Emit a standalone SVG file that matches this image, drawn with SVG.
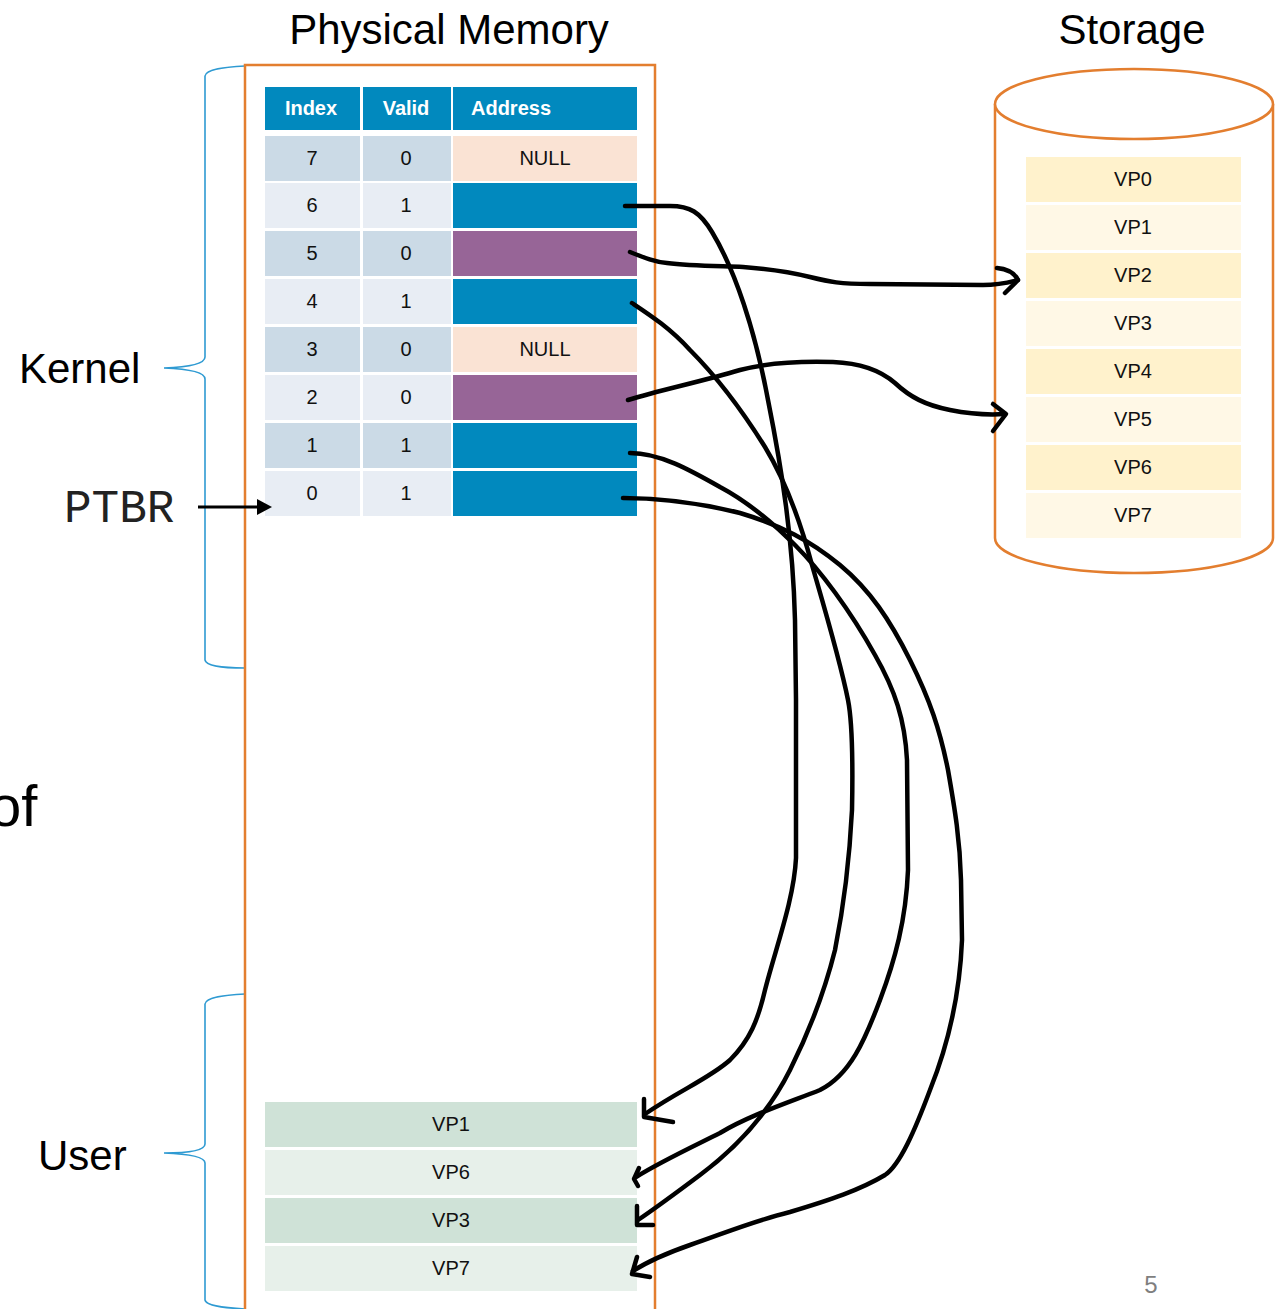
<svg xmlns="http://www.w3.org/2000/svg" width="1283" height="1309" viewBox="0 0 1283 1309">
  <style>
    .title { font-family: "Liberation Sans", Arial, sans-serif; font-size: 42px; fill: #000; }
    .hdr { font-family: "Liberation Sans", Arial, sans-serif; font-size: 20px; font-weight: bold; fill: #fff; text-anchor: middle; }
    .cell { font-family: "Liberation Sans", Arial, sans-serif; font-size: 20px; fill: #111; text-anchor: middle; }
    .mono { font-family: "Liberation Mono", "Courier New", monospace; font-size: 46px; fill: #222; }
    .box { fill: none; stroke: #E37E2F; stroke-width: 2.5; }
    .brace { fill: none; stroke: #2E9AD2; stroke-width: 1.6; }
    .ink { fill: none; stroke: #000; stroke-width: 4.5; stroke-linecap: round; stroke-linejoin: round; }
    .hd { fill: #0189BE; }
    .dk { fill: #CBDAE6; }
    .lt { fill: #E8EDF4; }
    .nul { fill: #FAE3D4; }
    .blu { fill: #0189BE; }
    .pur { fill: #976597; }
    .sA { fill: #FFF2CC; }
    .sB { fill: #FFF8E6; }
    .uA { fill: #CFE2D7; }
    .uB { fill: #E7F0EA; }
  </style>

  <!-- section titles -->
  <text class="title" x="449" y="44" text-anchor="middle">Physical Memory</text>
  <text class="title" x="1132" y="44" text-anchor="middle">Storage</text>
  <text class="title" x="19" y="383">Kernel</text>
  <text class="title" x="38" y="1170">User</text>
  <text class="title" x="-11" y="826" style="font-size:58px">of</text>
  <text x="1151" y="1293" text-anchor="middle" style="font-family:'Liberation Sans',Arial,sans-serif;font-size:24px;fill:#7F7F7F">5</text>

  <!-- region braces -->
  <g id="kernel-brace">
    <path class="brace" d="M245,66 C225,67 206,69 205,76 L205,357 C205,364 190,367 164,368 C190,369 205,372 205,379 L205,660 C206,666 225,668 245,668"/>
  </g>
  <g id="user-brace">
    <path class="brace" d="M245,994 C225,995 206,997 205,1004 L205,1144 C205,1150 190,1153 164,1153 C190,1154 205,1157 205,1163 L205,1300 C206,1306 225,1308 245,1309"/>
  </g>

  <!-- physical memory frame -->
  <g id="physical-memory">
    <rect class="box" x="245" y="65" width="410" height="1270"/>
  </g>

  <!-- page table -->
  <g id="page-table">
    <rect class="hd" x="265" y="87" width="95" height="43"/>
    <rect class="hd" x="363" y="87" width="88" height="43"/>
    <rect class="hd" x="453" y="87" width="184" height="43"/>
    <text class="hdr" x="311" y="115">Index</text>
    <text class="hdr" x="406" y="115">Valid</text>
    <text class="hdr" x="511" y="115">Address</text>
  </g>
  <g id="pte-7">
    <rect class="dk" x="265" y="136" width="95" height="45"/><rect class="dk" x="363" y="136" width="88" height="45"/><rect class="nul" x="453" y="136" width="184" height="45"/>
    <text class="cell" x="312" y="165">7</text><text class="cell" x="406" y="165">0</text><text class="cell" x="545" y="165">NULL</text>
  </g>
  <g id="pte-6">
    <rect class="lt" x="265" y="183" width="95" height="45"/><rect class="lt" x="363" y="183" width="88" height="45"/><rect class="blu" x="453" y="183" width="184" height="45"/>
    <text class="cell" x="312" y="212">6</text><text class="cell" x="406" y="212">1</text>
  </g>
  <g id="pte-5">
    <rect class="dk" x="265" y="231" width="95" height="45"/><rect class="dk" x="363" y="231" width="88" height="45"/><rect class="pur" x="453" y="231" width="184" height="45"/>
    <text class="cell" x="312" y="260">5</text><text class="cell" x="406" y="260">0</text>
  </g>
  <g id="pte-4">
    <rect class="lt" x="265" y="279" width="95" height="45"/><rect class="lt" x="363" y="279" width="88" height="45"/><rect class="blu" x="453" y="279" width="184" height="45"/>
    <text class="cell" x="312" y="308">4</text><text class="cell" x="406" y="308">1</text>
  </g>
  <g id="pte-3">
    <rect class="dk" x="265" y="327" width="95" height="45"/><rect class="dk" x="363" y="327" width="88" height="45"/><rect class="nul" x="453" y="327" width="184" height="45"/>
    <text class="cell" x="312" y="356">3</text><text class="cell" x="406" y="356">0</text><text class="cell" x="545" y="356">NULL</text>
  </g>
  <g id="pte-2">
    <rect class="lt" x="265" y="375" width="95" height="45"/><rect class="lt" x="363" y="375" width="88" height="45"/><rect class="pur" x="453" y="375" width="184" height="45"/>
    <text class="cell" x="312" y="404">2</text><text class="cell" x="406" y="404">0</text>
  </g>
  <g id="pte-1">
    <rect class="dk" x="265" y="423" width="95" height="45"/><rect class="dk" x="363" y="423" width="88" height="45"/><rect class="blu" x="453" y="423" width="184" height="45"/>
    <text class="cell" x="312" y="452">1</text><text class="cell" x="406" y="452">1</text>
  </g>
  <g id="pte-0">
    <rect class="lt" x="265" y="471" width="95" height="45"/><rect class="lt" x="363" y="471" width="88" height="45"/><rect class="blu" x="453" y="471" width="184" height="45"/>
    <text class="cell" x="312" y="500">0</text><text class="cell" x="406" y="500">1</text>
  </g>

  <!-- user frames -->
  <g id="frame-vp1"><rect class="uA" x="265" y="1102" width="372" height="45"/><text class="cell" x="451" y="1131">VP1</text></g>
  <g id="frame-vp6"><rect class="uB" x="265" y="1150" width="372" height="45"/><text class="cell" x="451" y="1179">VP6</text></g>
  <g id="frame-vp3"><rect class="uA" x="265" y="1198" width="372" height="45"/><text class="cell" x="451" y="1227">VP3</text></g>
  <g id="frame-vp7"><rect class="uB" x="265" y="1246" width="372" height="45"/><text class="cell" x="451" y="1275">VP7</text></g>

  <!-- storage cylinder -->
  <g id="storage">
    <path d="M995,104 L995,538 A139,35 0 0 0 1273,538 L1273,104" fill="#fff" stroke="#E37E2F" stroke-width="2.5"/>
    <ellipse cx="1134" cy="104" rx="139" ry="35" fill="#fff" stroke="#E37E2F" stroke-width="2.5"/>
  </g>
  <g id="disk-vp0"><rect class="sA" x="1026" y="157" width="215" height="45"/><text class="cell" x="1133" y="186">VP0</text></g>
  <g id="disk-vp1"><rect class="sB" x="1026" y="205" width="215" height="45"/><text class="cell" x="1133" y="234">VP1</text></g>
  <g id="disk-vp2"><rect class="sA" x="1026" y="253" width="215" height="45"/><text class="cell" x="1133" y="282">VP2</text></g>
  <g id="disk-vp3"><rect class="sB" x="1026" y="301" width="215" height="45"/><text class="cell" x="1133" y="330">VP3</text></g>
  <g id="disk-vp4"><rect class="sA" x="1026" y="349" width="215" height="45"/><text class="cell" x="1133" y="378">VP4</text></g>
  <g id="disk-vp5"><rect class="sB" x="1026" y="397" width="215" height="45"/><text class="cell" x="1133" y="426">VP5</text></g>
  <g id="disk-vp6"><rect class="sA" x="1026" y="445" width="215" height="45"/><text class="cell" x="1133" y="474">VP6</text></g>
  <g id="disk-vp7"><rect class="sB" x="1026" y="493" width="215" height="45"/><text class="cell" x="1133" y="522">VP7</text></g>

  <!-- PTBR register pointer -->
  <g id="ptbr">
    <text class="mono" x="64" y="522">PTBR</text>
  </g>

  <!-- hand-drawn mappings -->
  <g id="connectors">
    <line x1="198" y1="507" x2="260" y2="507" stroke="#000" stroke-width="3"/>
    <polygon points="272,507 257,499 257,515" fill="#000"/>

    <!-- entry 6 to frame VP1 -->
    <path class="ink" d="M625,206 L670,206 C690,206 700,212 712,232 C735,270 755,330 768,400 C782,470 793,540 795,620 L796,700 L796,858 C794,900 775,950 765,990 C758,1020 750,1040 730,1060 C710,1078 680,1090 645,1114"/>
    <path class="ink" d="M644,1099 L644,1117 L673,1122"/>

    <!-- entry 5 to disk VP2 -->
    <path class="ink" d="M630,252 C645,258 655,262 667,263 C690,266 720,266 743,267 C770,269 790,272 810,277 C830,282 840,284 870,284 L983,285 C1000,285 1010,282 1018,280"/>
    <path class="ink" d="M997,268 C1008,269 1015,274 1018,280 L1005,293"/>

    <!-- entry 4 to frame VP3 -->
    <path class="ink" d="M632,303 C650,315 670,328 690,350 C720,380 745,415 765,447 C785,480 800,520 812,565 C825,610 840,660 848,700 C852,720 853,760 852,810 C850,850 845,900 835,950 C825,990 810,1030 790,1070 C770,1110 740,1145 700,1175 C680,1190 660,1205 638,1220"/>
    <path class="ink" d="M637,1206 L637,1225 L653,1225"/>

    <!-- entry 2 to disk VP5 -->
    <path class="ink" d="M628,400 C660,390 700,382 740,370 C770,362 800,361 833,362 C860,363 880,370 895,383 C910,397 925,405 950,410 C970,414 990,415 1005,414"/>
    <path class="ink" d="M993,404 L1006,414 L993,431"/>

    <!-- entry 1 to frame VP6 -->
    <path class="ink" d="M630,453 C660,453 690,470 720,487 C750,503 775,525 795,545 C820,570 850,610 875,655 C895,690 905,720 907,760 L908,870 C906,920 895,960 880,1000 C865,1040 850,1075 820,1090 C790,1102 750,1115 720,1133 C690,1148 660,1162 636,1177"/>
    <path class="ink" d="M639,1168 L634,1179 L638,1186"/>

    <!-- entry 0 to frame VP7 -->
    <path class="ink" d="M623,498 C660,498 700,503 740,513 C780,525 810,540 840,565 C870,590 890,620 910,660 C930,700 940,730 948,770 C955,810 960,840 961,880 L962,940 C960,990 950,1040 930,1090 C915,1130 900,1165 885,1175 C860,1190 830,1200 790,1212 C750,1222 720,1235 690,1245 C670,1252 650,1260 633,1271"/>
    <path class="ink" d="M637,1257 L632,1274 L650,1277"/>
  </g>
</svg>
